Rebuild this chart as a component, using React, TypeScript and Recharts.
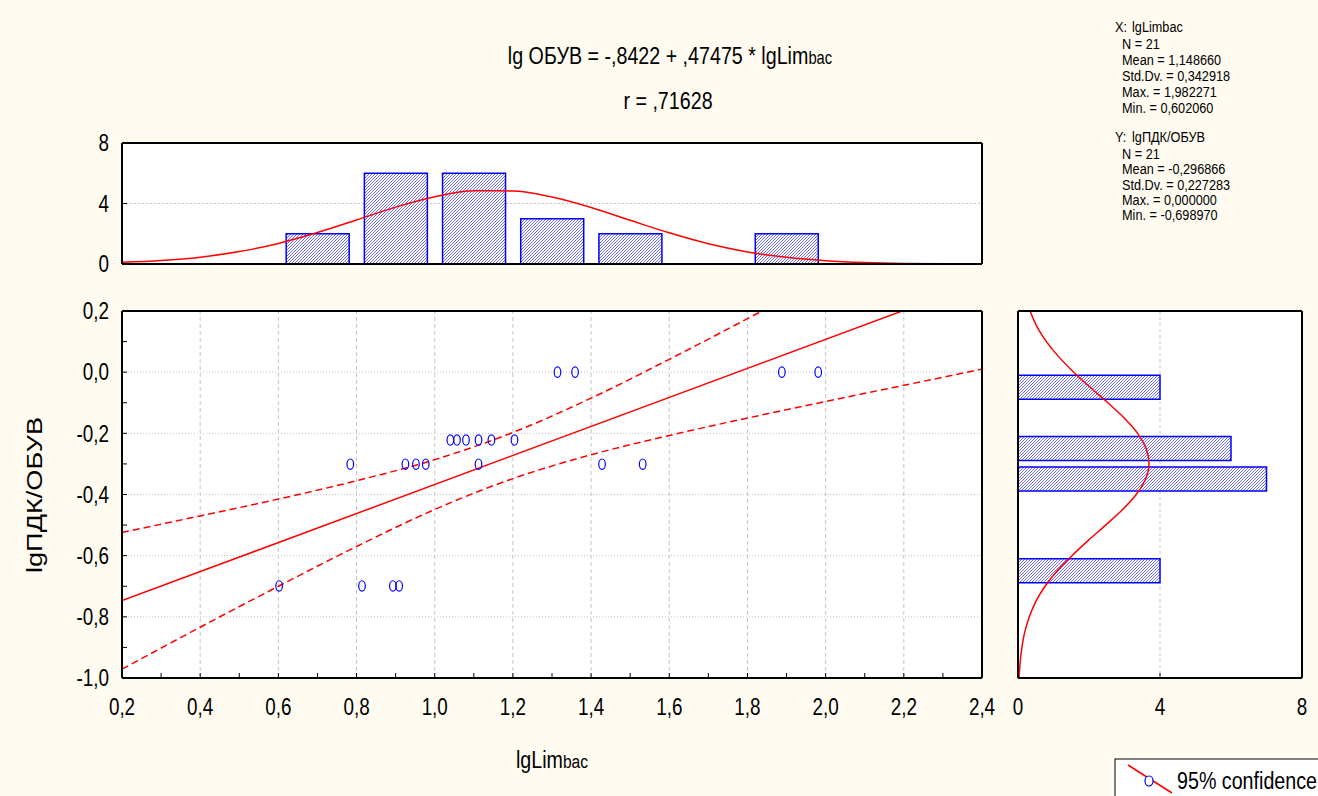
import React from 'react';
import { ComposedChart, Bar, Line, Scatter, XAxis, YAxis, CartesianGrid, ReferenceLine } from 'recharts';

const FONT = '"Liberation Sans", Arial, sans-serif';
const NARROW = 0.82; // the original uses a condensed face
const BG = '#fffbf0';
const BLUE = '#0000ff';
const RED = '#ff0000';
const GRID = '#c4c4c4';

// scatter: lgLimbac (x) vs lgПДК/ОБУВ (y)
const pointsX = [
  1.314, 1.359, 1.888, 1.981,
  1.040, 1.057, 1.080, 1.112, 1.145, 1.204,
  0.784, 0.925, 0.952, 0.977, 1.112, 1.428, 1.532,
  0.602, 0.814, 0.893, 0.909,
];
const pointsY = [
  0, 0, 0, 0,
  -0.222, -0.222, -0.222, -0.222, -0.222, -0.222,
  -0.301, -0.301, -0.301, -0.301, -0.301, -0.301, -0.301,
  -0.699, -0.699, -0.699, -0.699,
];

// regression line and 95% band
const fitX = [0.2, 2.4];
const fitY = [-0.747, 0.297];
const bandX = [0.2, 0.4, 0.6, 0.8, 1.0, 1.2, 1.4, 1.6, 1.8, 2.0, 2.2, 2.4];
const bandUpper = [-0.524, -0.47, -0.415, -0.355, -0.286, -0.197, -0.085, 0.042, 0.175, 0.31, 0.447, 0.585];
const bandLower = [-0.971, -0.834, -0.7, -0.57, -0.449, -0.348, -0.27, -0.207, -0.15, -0.096, -0.043, 0.01];

// top histogram (lgLimbac), bins of 0.2
const topBins = ['0,2-0,4', '0,4-0,6', '0,6-0,8', '0,8-1,0', '1,0-1,2', '1,2-1,4', '1,4-1,6', '1,6-1,8', '1,8-2,0', '2,0-2,2', '2,2-2,4'];
const topCounts = [0, 0, 2, 6, 6, 3, 2, 0, 2, 0, 0];
const topCurveX = [0.2, 0.3, 0.4, 0.5, 0.6, 0.7, 0.8, 0.9, 1.0, 1.1, 1.2, 1.3, 1.4, 1.5, 1.6, 1.7, 1.8, 1.9, 2.0, 2.1, 2.2, 2.3, 2.4];
const topCurveN = [0.11, 0.23, 0.45, 0.82, 1.36, 2.08, 2.91, 3.76, 4.45, 4.84, 4.83, 4.43, 3.74, 2.89, 2.06, 1.34, 0.8, 0.44, 0.22, 0.1, 0.04, 0.02, 0.01];

// right histogram (lgПДК/ОБУВ), bins of 0.1, listed top to bottom
const rightBins = ['0,1-0,2', '0,0-0,1', '-0,1-0,0', '-0,2--0,1', '-0,3--0,2', '-0,4--0,3', '-0,5--0,4', '-0,6--0,5', '-0,7--0,6', '-0,8--0,7', '-0,9--0,8', '-1,0--0,9'];
const rightCounts = [0, 0, 4, 0, 6, 7, 0, 0, 4, 0, 0, 0];
const rightCurveY = [0.2, 0.15, 0.1, 0.05, 0, -0.05, -0.1, -0.15, -0.2, -0.25, -0.3, -0.35, -0.4, -0.45, -0.5, -0.55, -0.6, -0.65, -0.7, -0.75, -0.8, -0.85, -0.9, -0.95, -1.0];
const rightCurveN = [0.34, 0.53, 0.8, 1.15, 1.57, 2.04, 2.53, 2.99, 3.37, 3.61, 3.69, 3.59, 3.33, 2.94, 2.47, 1.98, 1.52, 1.1, 0.76, 0.5, 0.32, 0.19, 0.11, 0.06, 0.03];

// axes
const xTicks = [0.2, 0.3, 0.4, 0.5, 0.6, 0.7, 0.8, 0.9, 1.0, 1.1, 1.2, 1.3, 1.4, 1.5, 1.6, 1.7, 1.8, 1.9, 2.0, 2.1, 2.2, 2.3, 2.4];
const xGrid = [0.4, 0.6, 0.8, 1.0, 1.2, 1.4, 1.6, 1.8, 2.0, 2.2];
const yTicks = [-1.0, -0.9, -0.8, -0.7, -0.6, -0.5, -0.4, -0.3, -0.2, -0.1, 0, 0.1, 0.2];
const yGrid = [-0.8, -0.6, -0.4, -0.2, 0];
const countTicks = [0, 4, 8];

const statsX = ['N = 21', 'Mean = 1,148660', 'Std.Dv. = 0,342918', 'Max. = 1,982271', 'Min. = 0,602060'];
const statsY = ['N = 21', 'Mean = -0,296866', 'Std.Dv. = 0,227283', 'Max. = 0,000000', 'Min. = -0,698970'];

const scatterData = pointsX.map((x, i) => ({ x, y: pointsY[i] }));
const fitData = fitX.map((x, i) => ({ x, y: fitY[i] }));
const upperData = bandX.map((x, i) => ({ x, y: bandUpper[i] }));
const lowerData = bandX.map((x, i) => ({ x, y: bandLower[i] }));
const topData = topBins.map((bin, i) => ({ bin, count: topCounts[i] }));
const topCurve = topCurveX.map((x, i) => ({ x, n: topCurveN[i] }));
const rightData = rightBins.map((bin, i) => ({ bin, count: rightCounts[i] }));
const rightCurve = rightCurveY.map((y, i) => ({ y, n: rightCurveN[i] }));

// labels only on every second tick, with a decimal comma
const fmt = (v: number) => (Math.round(v * 10) % 2 === 0 ? v.toFixed(1).replace('.', ',') : '');
const fmtInt = (v: number) => String(v);

const border = { stroke: '#000', strokeWidth: 2 };
const tl = { stroke: '#000', strokeWidth: 1 };

// horizontal text squeezed to look like the condensed original
const NText = ({ x, y, size, anchor = 'start', children }: any) => (
  <text transform={`translate(${x},${y}) scale(${NARROW},1)`} fontSize={size} textAnchor={anchor} fontFamily={FONT} fill="#000">
    {children}
  </text>
);

const makeTick = (format: (v: number) => string, dy: string) => (props: any) => {
  const { x, y, payload, textAnchor } = props;
  const label = format(payload.value);
  if (!label) return <g />;
  return (
    <text transform={`translate(${x},${y}) scale(${NARROW},1)`} dy={dy} fontSize={23} textAnchor={textAnchor} fontFamily={FONT} fill="#000">
      {label}
    </text>
  );
};
const BottomTick = makeTick(fmt, '0.71em');
const LeftTick = makeTick(fmt, '0.355em');
const CountBottomTick = makeTick(fmtInt, '0.71em');
const CountLeftTick = makeTick(fmtInt, '0.355em');

const Hatch = ({ id }: { id: string }) => (
  <defs>
    <pattern id={id} width={3} height={3} patternUnits="userSpaceOnUse">
      <rect width={3} height={3} fill="#ffffff" />
      <path d="M-1,1 l2,-2 M0,3 l3,-3 M2,4 l2,-2" stroke="#4a4aff" strokeWidth={0.8} />
    </pattern>
  </defs>
);

const Ring = (props: any) => (
  <ellipse cx={props.cx} cy={props.cy} rx={3.3} ry={5.2} fill="none" stroke={BLUE} strokeWidth={1.2} />
);

function TopHist() {
  return (
    <ComposedChart width={1000} height={160} data={topData} margin={{ top: 22, right: 17, bottom: 15, left: 121 }} barCategoryGap="10%">
      <Hatch id="hatchTop" />
      <CartesianGrid vertical={false} fill="#ffffff" stroke={GRID} strokeDasharray="2 2" />
      <XAxis xAxisId="cat" dataKey="bin" type="category" hide />
      <XAxis dataKey="x" type="number" domain={[0.2, 2.4]} allowDataOverflow ticks={xGrid} interval={0} tick={false} tickSize={-5} height={1} axisLine={border} tickLine={tl} />
      <XAxis xAxisId="top" orientation="top" type="number" domain={[0.2, 2.4]} allowDataOverflow ticks={xGrid} interval={0} tick={false} tickSize={-5} height={1} axisLine={border} tickLine={tl} />
      <YAxis type="number" domain={[0, 8]} allowDataOverflow ticks={countTicks} interval={0} tick={CountLeftTick} tickSize={-5} tickMargin={18} width={1} axisLine={border} tickLine={tl} />
      <YAxis yAxisId="right" orientation="right" type="number" domain={[0, 8]} allowDataOverflow ticks={[4]} tick={false} tickSize={-5} width={1} axisLine={border} tickLine={tl} />
      <Bar xAxisId="cat" dataKey="count" fill="url(#hatchTop)" stroke={BLUE} strokeWidth={1.5} isAnimationActive={false} />
      <Line data={topCurve} dataKey="n" type="monotone" stroke={RED} strokeWidth={1.5} dot={false} isAnimationActive={false} />
    </ComposedChart>
  );
}

function MainPlot() {
  return (
    <ComposedChart width={1000} height={460} margin={{ top: 20, right: 17, bottom: 71, left: 121 }}>
      <CartesianGrid horizontal={false} vertical={false} fill="#ffffff" />
      <XAxis dataKey="x" type="number" domain={[0.2, 2.4]} allowDataOverflow ticks={xTicks} interval={0} tick={BottomTick} tickSize={-5} tickMargin={26} height={1} axisLine={border} tickLine={tl} />
      <XAxis xAxisId="top" orientation="top" type="number" domain={[0.2, 2.4]} allowDataOverflow ticks={xTicks} interval={0} tick={false} tickSize={-5} height={1} axisLine={border} tickLine={tl} />
      <YAxis dataKey="y" type="number" domain={[-1, 0.2]} allowDataOverflow ticks={yTicks} interval={0} tick={LeftTick} tickSize={-5} tickMargin={18} width={1} axisLine={border} tickLine={tl} />
      <YAxis yAxisId="right" orientation="right" type="number" domain={[-1, 0.2]} allowDataOverflow ticks={yTicks} interval={0} tick={false} tickSize={-5} width={1} axisLine={border} tickLine={tl} />
      {xGrid.map((v) => (
        <ReferenceLine key={'gx' + v} x={v} stroke={GRID} strokeDasharray="4 3" />
      ))}
      {yGrid.map((v) => (
        <ReferenceLine key={'gy' + v} y={v} stroke={GRID} strokeDasharray="1 2" />
      ))}
      <Line data={upperData} dataKey="y" type="monotone" stroke={RED} strokeWidth={1.5} strokeDasharray="7 4" dot={false} isAnimationActive={false} />
      <Line data={lowerData} dataKey="y" type="monotone" stroke={RED} strokeWidth={1.5} strokeDasharray="7 4" dot={false} isAnimationActive={false} />
      <Line data={fitData} dataKey="y" type="linear" stroke={RED} strokeWidth={1.5} dot={false} isAnimationActive={false} />
      <Scatter data={scatterData} dataKey="y" shape={Ring} isAnimationActive={false} />
    </ComposedChart>
  );
}

function RightHist() {
  return (
    <ComposedChart layout="vertical" width={318} height={460} data={rightData} margin={{ top: 20, right: 15, bottom: 71, left: 17 }} barCategoryGap="10%">
      <Hatch id="hatchRight" />
      <CartesianGrid horizontal={false} fill="#ffffff" stroke={GRID} strokeDasharray="3 3" />
      <XAxis type="number" domain={[0, 8]} allowDataOverflow ticks={countTicks} interval={0} tick={CountBottomTick} tickSize={-5} tickMargin={26} height={1} axisLine={border} tickLine={tl} />
      <XAxis xAxisId="top" orientation="top" type="number" domain={[0, 8]} allowDataOverflow ticks={[4]} tick={false} tickSize={-5} height={1} axisLine={border} tickLine={tl} />
      <YAxis yAxisId="cat" dataKey="bin" type="category" hide />
      <YAxis dataKey="y" type="number" domain={[-1, 0.2]} reversed allowDataOverflow ticks={yGrid} interval={0} tick={false} tickSize={-5} width={1} axisLine={border} tickLine={tl} />
      <YAxis yAxisId="right" orientation="right" type="number" domain={[-1, 0.2]} reversed allowDataOverflow ticks={yGrid} interval={0} tick={false} tickSize={-5} width={1} axisLine={border} tickLine={tl} />
      <Bar yAxisId="cat" dataKey="count" fill="url(#hatchRight)" stroke={BLUE} strokeWidth={1.5} isAnimationActive={false} />
      <Line data={rightCurve} dataKey="n" type="monotone" stroke={RED} strokeWidth={1.5} dot={false} isAnimationActive={false} />
    </ComposedChart>
  );
}

export default function App() {
  return (
    <div style={{ position: 'absolute', left: 0, top: 0, width: 1318, height: 796, background: BG, overflow: 'hidden', fontFamily: FONT }}>
      <div style={{ position: 'absolute', left: 0, top: 120 }}><TopHist /></div>
      <div style={{ position: 'absolute', left: 0, top: 290 }}><MainPlot /></div>
      <div style={{ position: 'absolute', left: 1000, top: 290 }}><RightHist /></div>
      <svg width={1318} height={796} style={{ position: 'absolute', left: 0, top: 0, pointerEvents: 'none' }}>
        <NText x={670} y={64} size={24} anchor="middle">
          lg ОБУВ = -,8422 + ,47475 * lgLim<tspan fontSize={18}>bac</tspan>
        </NText>
        <NText x={668} y={109} size={24} anchor="middle">r = ,71628</NText>

        <NText x={1115} y={32} size={15.5}>X:</NText>
        <NText x={1132} y={32} size={15.5}>lgLimbac</NText>
        {statsX.map((s, i) => (
          <NText key={'x' + i} x={1122} y={49 + i * 16} size={15.5}>{s}</NText>
        ))}
        <NText x={1115} y={142} size={15.5}>Y:</NText>
        <NText x={1132} y={142} size={15.5}>lgПДК/ОБУВ</NText>
        {statsY.map((s, i) => (
          <NText key={'y' + i} x={1122} y={159 + i * 15.3} size={15.5}>{s}</NText>
        ))}

        <NText x={552} y={768} size={24} anchor="middle">
          lgLim<tspan fontSize={19}>bac</tspan>
        </NText>
        <text x={0} y={0} transform="translate(42,495) rotate(-90)" textAnchor="middle" fontSize={22} fontFamily={FONT} textLength={156} lengthAdjust="spacingAndGlyphs">
          lgПДК/ОБУВ
        </text>

        <rect x={1115} y={759} width={220} height={50} fill="#ffffff" stroke="#000" strokeWidth={1} />
        <line x1={1128} y1={765} x2={1172} y2={793} stroke={RED} strokeWidth={1.5} />
        <ellipse cx={1149} cy={781} rx={4} ry={5} fill="#ffffff" stroke={BLUE} strokeWidth={1.2} />
        <NText x={1177} y={789} size={24}>95% confidence</NText>
      </svg>
    </div>
  );
}
